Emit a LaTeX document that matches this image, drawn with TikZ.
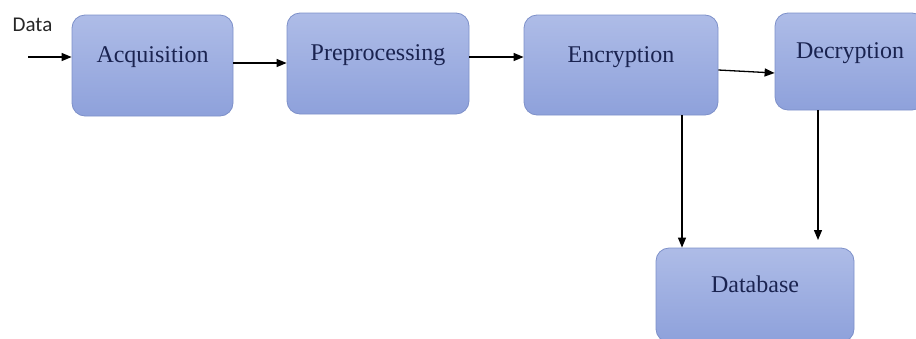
\documentclass[tikz,border=0pt]{standalone}
\usepackage{fontspec}
\newfontfamily\boxfont{Liberation Serif}
\newfontfamily\datafont{Carlito}
\usetikzlibrary{arrows.meta}
\definecolor{boxtop}{HTML}{AEBCE7}
\definecolor{boxbot}{HTML}{8EA1DB}
\definecolor{boxline}{HTML}{7D90C9}
\definecolor{boxtext}{HTML}{1A2350}
\tikzset{
  stagebox/.style={draw=boxline, line width=0.8pt, rounded corners=13pt,
    top color=boxtop, bottom color=boxbot, inner sep=0pt,
    font=\boxfont\fontsize{24}{26}\selectfont, text=boxtext,
    text height=17pt, text depth=23pt},
  flow/.style={line width=1.3pt, -{Triangle[length=10pt,width=8pt]}},
}
\begin{document}
\begin{tikzpicture}[x=1pt,y=-1pt]
\useasboundingbox (0,0) rectangle (916,338);
\clip (0,0) rectangle (916,338);
\node[stagebox, minimum width=161pt, minimum height=101pt] (acq) at (152.5,65.5) {Acquisition};
\node[stagebox, minimum width=182pt, minimum height=101pt] (pre) at (378,63.5) {Preprocessing};
\node[stagebox, minimum width=194pt, minimum height=100pt] (enc) at (621,65) {Encryption};
\node[stagebox, minimum width=150pt, minimum height=97pt] (dec) at (850,61.5) {Decryption};
\node[stagebox, minimum width=198pt, minimum height=94pt] (db) at (755,295) {Database};
\node[font=\datafont\fontsize{21}{23}\selectfont, text=black!85, inner sep=0pt] (data) at (32.5,25) {Data};
\coordinate (din) at (28,57);
\coordinate (dbtop) at (818,240);
\draw[flow] (din) -- ([yshift=8.5pt]acq.west);
\draw[flow] ([yshift=2.5pt]acq.east) -- ([yshift=0.5pt]pre.west);
\draw[flow] ([yshift=6.5pt]pre.east) -- ([yshift=8pt]enc.west);
\draw[flow] ([yshift=-5pt]enc.east) -- ([yshift=-11.5pt]dec.west);
\draw[flow] ([xshift=61pt]enc.south) -- ([xshift=-73pt]db.north);
\draw[flow] ([xshift=-32pt]dec.south) -- (dbtop);
\end{tikzpicture}
\end{document}
